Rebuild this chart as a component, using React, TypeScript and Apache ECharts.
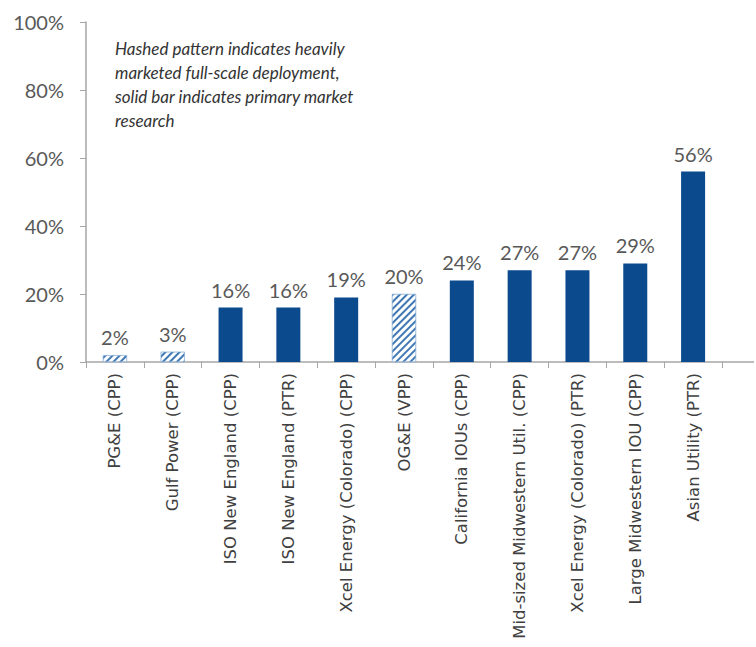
import React, { useEffect, useRef } from "react";
import * as echarts from "echarts";

const categories = [
  "PG&E (CPP)",
  "Gulf Power (CPP)",
  "ISO New England (CPP)",
  "ISO New England (PTR)",
  "Xcel Energy (Colorado) (CPP)",
  "OG&E (VPP)",
  "California IOUs (CPP)",
  "Mid-sized Midwestern Util. (CPP)",
  "Xcel Energy (Colorado) (PTR)",
  "Large Midwestern IOU (CPP)",
  "Asian Utility (PTR)",
];
const values = [2, 3, 16, 16, 19, 20, 24, 27, 27, 29, 56];
const hashed = [true, true, false, false, false, true, false, false, false, false, false];
const noteLines = [
  "Hashed pattern indicates heavily",
  "marketed full-scale deployment,",
  "solid bar indicates primary market",
  "research",
];

export default function App() {
  const ref = useRef<HTMLDivElement>(null);
  useEffect(() => {
    document.body.style.margin = "0";
    const chart = echarts.init(ref.current!, null, { renderer: "svg" });
    const solid = "#0b4a8c";
    const data = values.map((v, i) =>
      hashed[i]
        ? {
            value: v,
            itemStyle: {
              color: "#ffffff",
              borderColor: "#8fb3d9",
              borderWidth: 0.5,
              decal: {
                symbol: "rect",
                symbolSize: 1,
                dashArrayX: [1, 0],
                dashArrayY: [1.6, 2.2],
                rotation: -Math.PI / 4,
                color: "#3f78b5",
              },
            },
          }
        : { value: v, itemStyle: { color: solid } }
    );
    chart.setOption({
      animation: false,
      textStyle: { fontFamily: "Lato" },
      grid: {
        left: 86,
        top: 22,
        right: 34,
        bottom: 285,
        containLabel: false,
        outerBoundsMode: "none",
      },
      xAxis: {
        type: "category",
        data: categories,
        axisLine: { lineStyle: { color: "#a6a6a6", width: 1.5 } },
        axisTick: { show: true, length: 6, lineStyle: { color: "#a6a6a6" } },
        axisLabel: {
          rotate: 90,
          interval: 0,
          fontSize: 16.5,
          color: "#404040",
          margin: 11,
          fontFamily: "DejaVu Sans",
        },
      },
      yAxis: {
        type: "value",
        min: 0,
        max: 100,
        interval: 20,
        axisLine: { show: true, lineStyle: { color: "#a6a6a6", width: 1.5 } },
        axisTick: { show: true, length: 6, lineStyle: { color: "#a6a6a6" } },
        splitLine: { show: false },
        axisLabel: {
          formatter: "{value}%",
          fontSize: 20,
          color: "#595959",
          margin: 22,
        },
      },
      series: [
        {
          type: "bar",
          data,
          barWidth: 24,
          label: {
            show: true,
            position: "top",
            distance: 8,
            formatter: "{c}%",
            fontSize: 20,
            color: "#595959",
          },
        },
      ],
      graphic: [
        {
          type: "line",
          shape: { x1: 722, y1: 362, x2: 754, y2: 362 },
          style: { stroke: "#a6a6a6", lineWidth: 1.5 },
        },
        {
          type: "text",
          left: 115,
          top: 36,
          style: {
            text: noteLines.join("\n"),
            font: "italic 17px Lato",
            fill: "#333333",
            lineHeight: 24,
          },
        },
      ],
    });
    return () => chart.dispose();
  }, []);
  return <div ref={ref} style={{ width: 756, height: 647 }} />;
}
